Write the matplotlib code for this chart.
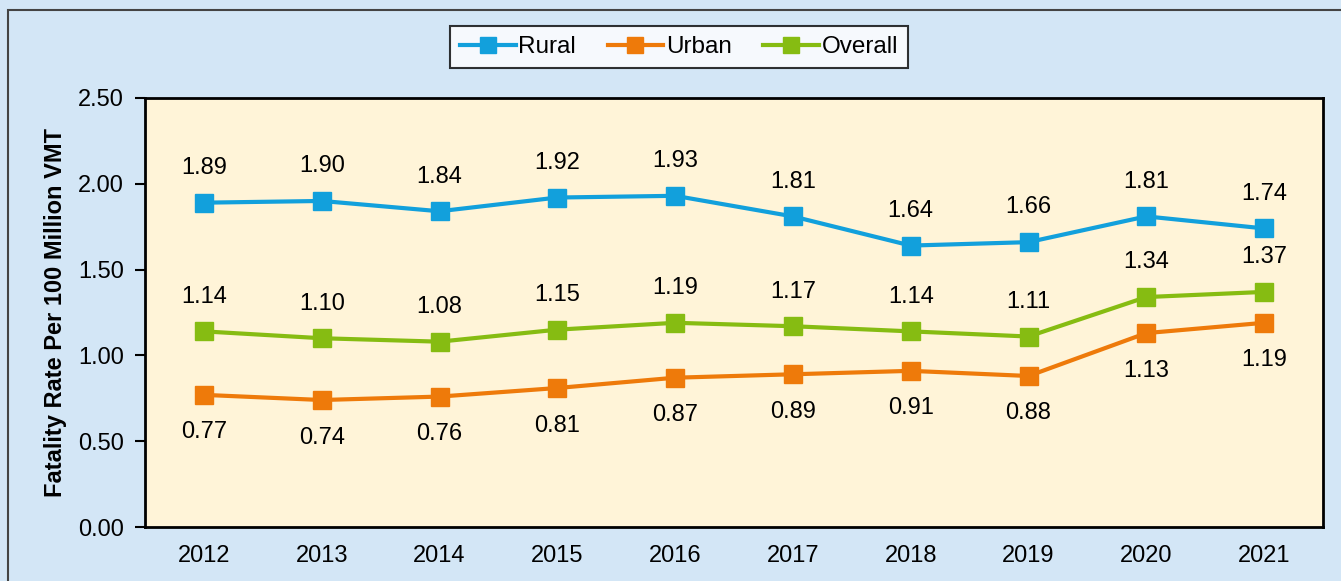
import matplotlib
matplotlib.use("Agg")
import matplotlib.pyplot as plt
from matplotlib.patches import Rectangle

plt.rcParams["font.family"] = ["Liberation Sans", "DejaVu Sans"]

years = ["2012", "2013", "2014", "2015", "2016", "2017", "2018", "2019", "2020", "2021"]
rural = [1.89, 1.90, 1.84, 1.92, 1.93, 1.81, 1.64, 1.66, 1.81, 1.74]
urban = [0.77, 0.74, 0.76, 0.81, 0.87, 0.89, 0.91, 0.88, 1.13, 1.19]
overall = [1.14, 1.10, 1.08, 1.15, 1.19, 1.17, 1.14, 1.11, 1.34, 1.37]

series = [
    ("Rural", rural, "#12A0DC", 25),
    ("Urban", urban, "#EE7A0A", -27),
    ("Overall", overall, "#86BC12", 25),
]

fig = plt.figure(figsize=(13.41, 5.81), dpi=100)
fig.patch.set_facecolor("#D3E6F6")
fig.patches.append(Rectangle((8 / 1341, -0.5), 2.0, 1.5 - 10 / 581, transform=fig.transFigure,
                             fill=False, edgecolor="#444444", linewidth=1.5))

ax = fig.add_axes([145 / 1341, 1 - 527 / 581, (1323 - 145) / 1341, (527 - 98) / 581])
ax.set_facecolor("#FFF4D8")

x = range(len(years))
for name, vals, color, off in series:
    ax.plot(x, vals, color=color, linewidth=3, marker="s", markersize=13, label=name)
    for xi, v in zip(x, vals):
        ax.annotate(f"{v:.2f}", (xi, v), xytext=(0, off), textcoords="offset points",
                    ha="center", va="center", fontsize=17)

ticks = [0, 0.5, 1.0, 1.5, 2.0, 2.5]
ax.set_xlim(-0.5, len(years) - 0.5)
ax.set_ylim(0, 2.5)
ax.set_yticks(ticks)
ax.set_yticklabels([f"{t:.2f}" for t in ticks])
ax.set_xticks(list(x))
ax.set_xticklabels(years)
ax.tick_params(axis="y", labelsize=17, length=7, width=1.5, pad=8)
ax.tick_params(axis="x", labelsize=17, length=0, pad=13)
for s in ax.spines.values():
    s.set_linewidth(2)
ax.set_ylabel("Fatality Rate Per 100 Million VMT", fontsize=17, fontweight="bold", labelpad=8)

leg = ax.legend(loc="center", bbox_to_anchor=(679 / 1341, 1 - 47 / 581),
                bbox_transform=fig.transFigure, ncol=3, fontsize=17.5, frameon=True,
                fancybox=False, edgecolor="black", handlelength=2.3, columnspacing=1.3,
                handletextpad=0.1, borderpad=0.4, borderaxespad=0, markerscale=0.85)
leg.get_frame().set_linewidth(1.5)

fig.savefig("out.png", dpi=100, facecolor=fig.get_facecolor())
